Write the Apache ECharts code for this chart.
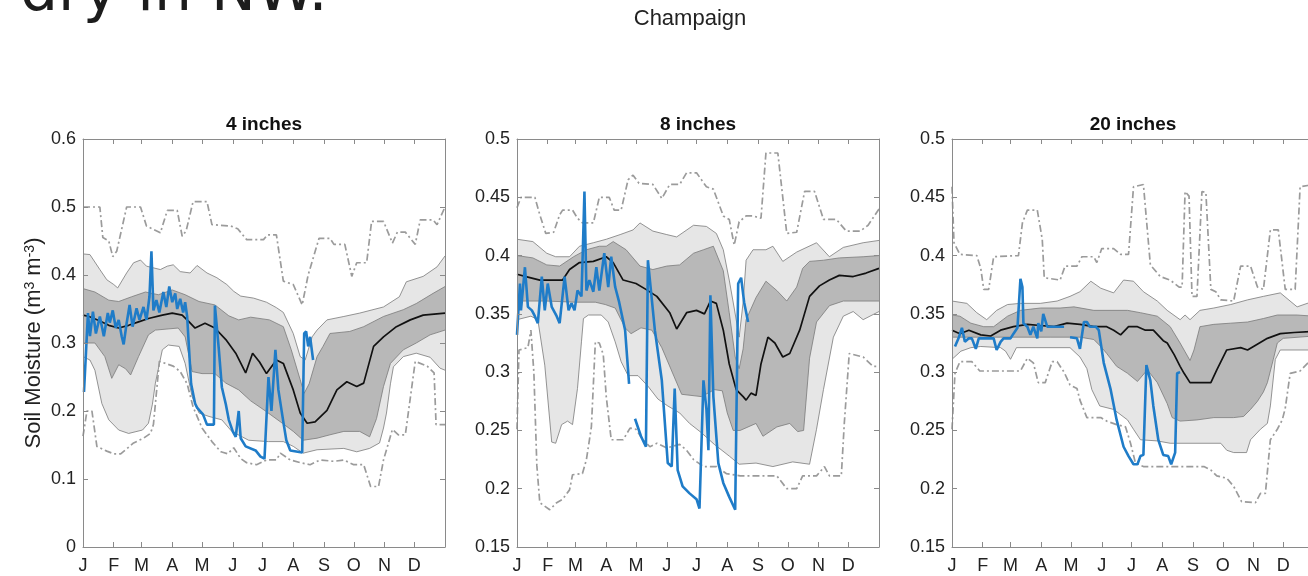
<!DOCTYPE html>
<html><head><meta charset="utf-8">
<script src="https://cdn.jsdelivr.net/npm/echarts@6/dist/echarts.min.js"></script>
<style>html,body{margin:0;padding:0;background:#fff;overflow:hidden;width:1308px;height:576px}#c{width:1320px;height:576px}</style>
</head><body><div id="c"></div>
<script>
// ---------- labels ----------
const headline = 'dry in NW.';
const siteName = 'Champaign';
const panelTitles = ['4 inches', '8 inches', '20 inches'];
const monthLabels = ['J','F','M','A','M','J','J','A','S','O','N','D'];
const monthStarts = [1,32,60,91,121,152,182,213,244,274,305,335];
const yMin = [0, 0.15, 0.15];
const yMax = [0.6, 0.5, 0.5];
const yStep = [0.1, 0.05, 0.05];

// ---------- 4 inches ----------
const p1Max = [[1,0.5],[18,0.5],[21,0.455],[27,0.45],[31,0.427],[35,0.435],[45,0.5],[59,0.5],[65,0.472],[79,0.462],[86,0.495],[96,0.495],[101,0.457],[105,0.465],[112,0.508],[126,0.508],[131,0.474],[150,0.472],[157,0.468],[166,0.452],[183,0.452],[187,0.459],[196,0.459],[203,0.391],[213,0.386],[222,0.356],[228,0.4],[239,0.454],[250,0.454],[254,0.445],[265,0.445],[272,0.398],[277,0.418],[287,0.418],[292,0.479],[304,0.479],[313,0.447],[318,0.463],[326,0.463],[336,0.445],[341,0.481],[354,0.481],[358,0.474],[366,0.5]];
const p1Min = [[1,0.163],[5,0.2],[10,0.2],[15,0.148],[25,0.141],[32,0.137],[39,0.137],[44,0.143],[52,0.153],[62,0.16],[69,0.167],[72,0.18],[78,0.273],[92,0.266],[99,0.258],[106,0.24],[112,0.206],[121,0.175],[131,0.155],[140,0.14],[147,0.137],[153,0.146],[160,0.13],[166,0.124],[176,0.121],[186,0.128],[196,0.128],[200,0.138],[210,0.128],[220,0.124],[230,0.121],[240,0.128],[254,0.126],[264,0.128],[274,0.121],[284,0.121],[291,0.089],[299,0.089],[304,0.128],[313,0.173],[319,0.165],[326,0.165],[336,0.273],[348,0.266],[355,0.256],[357,0.18],[366,0.18]];
const p1P90 = [[1,0.431],[8,0.43],[18,0.408],[25,0.393],[32,0.386],[36,0.381],[45,0.403],[52,0.418],[59,0.422],[65,0.413],[79,0.408],[86,0.413],[92,0.415],[99,0.405],[109,0.403],[116,0.414],[126,0.403],[136,0.396],[146,0.386],[153,0.376],[160,0.369],[173,0.366],[186,0.36],[196,0.352],[203,0.345],[213,0.314],[220,0.28],[225,0.275],[232,0.309],[237,0.319],[247,0.334],[264,0.339],[280,0.344],[304,0.353],[320,0.368],[327,0.39],[344,0.398],[358,0.412],[366,0.428]];
const p1P75 = [[1,0.38],[13,0.375],[27,0.363],[37,0.361],[50,0.368],[64,0.375],[77,0.371],[91,0.378],[104,0.371],[118,0.361],[134,0.356],[148,0.34],[158,0.334],[170,0.338],[189,0.334],[203,0.324],[211,0.29],[220,0.246],[224,0.226],[229,0.24],[237,0.28],[243,0.295],[250,0.314],[270,0.317],[284,0.324],[304,0.339],[324,0.349],[337,0.358],[354,0.373],[366,0.383]];
const p1Med = [[1,0.341],[7,0.339],[17,0.333],[27,0.326],[37,0.322],[47,0.326],[57,0.331],[67,0.336],[81,0.341],[91,0.344],[101,0.341],[108,0.331],[114,0.322],[124,0.329],[134,0.322],[145,0.305],[155,0.285],[165,0.256],[172,0.285],[179,0.272],[186,0.255],[196,0.275],[203,0.27],[213,0.231],[220,0.197],[227,0.182],[235,0.184],[247,0.201],[257,0.231],[267,0.243],[277,0.236],[284,0.241],[294,0.295],[304,0.309],[317,0.324],[331,0.334],[344,0.341],[366,0.344]];
const p1P25 = [[1,0.3],[13,0.3],[23,0.28],[30,0.248],[37,0.268],[44,0.262],[49,0.253],[57,0.28],[67,0.312],[74,0.319],[97,0.322],[104,0.309],[111,0.258],[121,0.255],[134,0.255],[145,0.241],[158,0.231],[170,0.215],[185,0.2],[202,0.182],[213,0.17],[223,0.157],[237,0.16],[250,0.165],[264,0.17],[280,0.17],[290,0.162],[297,0.189],[304,0.236],[311,0.27],[324,0.29],[337,0.3],[351,0.312],[366,0.319]];
const p1P10 = [[1,0.28],[8,0.275],[13,0.26],[20,0.211],[27,0.187],[37,0.172],[47,0.167],[61,0.172],[67,0.182],[71,0.21],[74,0.241],[81,0.29],[87,0.297],[98,0.295],[104,0.27],[111,0.221],[118,0.197],[128,0.192],[141,0.187],[151,0.17],[168,0.157],[188,0.155],[203,0.155],[213,0.148],[223,0.138],[237,0.143],[264,0.145],[277,0.14],[290,0.145],[300,0.153],[304,0.175],[307,0.197],[311,0.24],[314,0.265],[324,0.28],[337,0.285],[351,0.279],[361,0.263],[366,0.26]];
const p1Obs = [[2,0.228],[6,0.344],[8,0.31],[11,0.346],[14,0.314],[18,0.339],[22,0.31],[26,0.344],[28,0.33],[31,0.348],[34,0.322],[37,0.334],[40,0.31],[42,0.298],[45,0.329],[48,0.356],[51,0.324],[55,0.351],[58,0.334],[62,0.353],[65,0.334],[68,0.368],[70,0.435],[72,0.348],[75,0.363],[78,0.345],[82,0.375],[85,0.353],[88,0.383],[91,0.36],[94,0.373],[96,0.35],[99,0.365],[102,0.345],[104,0.36],[106,0.339],[110,0.24],[114,0.211],[116,0.205],[119,0.2],[122,0.195],[126,0.18],[133,0.18],[134,0.355],[138,0.29],[141,0.235],[145,0.21],[148,0.187],[152,0.17],[155,0.162],[158,0.2],[160,0.16],[165,0.148],[175,0.142],[180,0.133],[184,0.13],[188,0.25],[191,0.2],[195,0.29],[198,0.231],[203,0.184],[206,0.157],[210,0.142],[222,0.139],[224,0.314],[226,0.317],[228,0.295],[230,0.309],[233,0.275]];

// ---------- 8 inches ----------
const p2Max = [[1,0.441],[5,0.45],[19,0.45],[24,0.435],[30,0.419],[38,0.42],[44,0.435],[47,0.439],[57,0.439],[62,0.432],[67,0.428],[78,0.428],[84,0.45],[94,0.45],[99,0.439],[106,0.439],[113,0.465],[118,0.469],[124,0.462],[138,0.461],[147,0.449],[155,0.461],[165,0.461],[172,0.471],[182,0.471],[192,0.459],[199,0.457],[209,0.434],[215,0.431],[220,0.409],[225,0.429],[232,0.434],[239,0.434],[247,0.432],[252,0.488],[264,0.488],[273,0.419],[283,0.42],[291,0.455],[301,0.455],[310,0.431],[323,0.431],[333,0.421],[347,0.421],[355,0.426],[366,0.44]];
const p2Min = [[1,0.251],[3,0.319],[12,0.321],[15,0.336],[18,0.3],[21,0.22],[24,0.188],[34,0.182],[41,0.188],[47,0.191],[54,0.199],[57,0.212],[67,0.213],[71,0.225],[76,0.253],[80,0.326],[84,0.325],[88,0.315],[91,0.279],[96,0.242],[108,0.242],[115,0.252],[121,0.251],[128,0.242],[135,0.236],[142,0.239],[152,0.235],[165,0.238],[172,0.233],[179,0.225],[189,0.219],[202,0.219],[212,0.213],[226,0.211],[263,0.211],[273,0.2],[283,0.2],[289,0.211],[303,0.211],[311,0.219],[316,0.211],[328,0.211],[331,0.256],[336,0.316],[350,0.313],[360,0.305],[366,0.305]];
const p2P90 = [[1,0.414],[17,0.412],[31,0.402],[40,0.399],[54,0.399],[64,0.408],[78,0.411],[91,0.414],[105,0.418],[118,0.422],[125,0.428],[138,0.421],[152,0.418],[162,0.416],[179,0.426],[192,0.425],[202,0.419],[209,0.405],[215,0.379],[220,0.355],[225,0.33],[229,0.36],[232,0.396],[239,0.405],[252,0.405],[259,0.408],[269,0.395],[283,0.403],[303,0.411],[316,0.399],[330,0.407],[350,0.411],[366,0.413]];
const p2P75 = [[1,0.4],[17,0.398],[31,0.392],[44,0.391],[58,0.399],[71,0.405],[84,0.408],[91,0.408],[98,0.412],[111,0.405],[125,0.391],[138,0.388],[152,0.391],[165,0.392],[179,0.402],[189,0.405],[199,0.408],[209,0.387],[215,0.351],[221,0.313],[225,0.303],[229,0.32],[232,0.345],[242,0.364],[252,0.378],[263,0.37],[273,0.361],[283,0.373],[289,0.389],[296,0.395],[310,0.396],[326,0.398],[350,0.399],[366,0.4]];
const p2Med = [[1,0.384],[10,0.382],[24,0.379],[37,0.379],[47,0.379],[54,0.388],[64,0.394],[78,0.395],[91,0.399],[98,0.394],[108,0.379],[121,0.376],[131,0.371],[142,0.365],[155,0.351],[162,0.337],[172,0.351],[182,0.353],[190,0.35],[196,0.361],[202,0.359],[209,0.336],[215,0.307],[222,0.285],[229,0.279],[232,0.276],[237,0.282],[242,0.28],[247,0.307],[254,0.33],[261,0.325],[269,0.313],[276,0.316],[286,0.336],[296,0.365],[306,0.374],[316,0.379],[326,0.383],[340,0.382],[353,0.385],[366,0.389]];
const p2P25 = [[1,0.361],[30,0.361],[60,0.36],[80,0.36],[90,0.358],[100,0.355],[110,0.338],[116,0.333],[126,0.338],[137,0.336],[147,0.321],[157,0.301],[167,0.281],[187,0.279],[200,0.285],[208,0.284],[213,0.265],[219,0.25],[226,0.25],[242,0.256],[249,0.245],[263,0.253],[276,0.256],[284,0.249],[290,0.25],[296,0.312],[303,0.343],[316,0.357],[330,0.361],[366,0.361]];
const p2P10 = [[1,0.345],[15,0.348],[22,0.345],[29,0.306],[36,0.24],[40,0.239],[46,0.255],[52,0.258],[57,0.255],[62,0.286],[66,0.326],[68,0.346],[73,0.349],[86,0.349],[93,0.343],[100,0.326],[106,0.309],[113,0.297],[123,0.297],[133,0.288],[143,0.277],[153,0.271],[165,0.265],[175,0.256],[187,0.248],[200,0.238],[215,0.228],[225,0.221],[242,0.222],[259,0.219],[279,0.223],[296,0.221],[303,0.251],[310,0.285],[320,0.33],[330,0.348],[340,0.352],[350,0.345],[366,0.352]];
const p2Obs = [[1,0.332],[4,0.376],[5,0.353],[9,0.39],[12,0.356],[16,0.353],[19,0.348],[22,0.342],[26,0.382],[29,0.353],[32,0.376],[36,0.356],[41,0.348],[44,0.342],[49,0.382],[53,0.353],[56,0.359],[59,0.353],[62,0.37],[66,0.365],[67,0.393],[69,0.455],[71,0.37],[74,0.379],[78,0.369],[81,0.39],[84,0.37],[89,0.402],[93,0.373],[96,0.399],[100,0.373],[104,0.36],[110,0.336],[114,0.29],[117,null],[120,0.26],[126,0.245],[131,0.236],[133,0.396],[140,0.336],[147,0.293],[153,0.222],[157,0.219],[160,0.286],[163,0.216],[168,0.202],[175,0.196],[182,0.191],[185,0.183],[189,0.293],[192,0.268],[194,0.233],[196,0.366],[199,0.279],[204,0.222],[209,0.205],[215,0.193],[221,0.182],[224,0.376],[227,0.381],[230,0.36],[234,0.343]];

// ---------- 20 inches ----------
const p3Max = [[1,0.459],[3,0.411],[9,0.401],[26,0.4],[30,0.389],[33,0.371],[38,0.371],[43,0.399],[68,0.4],[72,0.428],[77,0.439],[87,0.439],[92,0.414],[94,0.381],[110,0.379],[115,0.391],[127,0.391],[132,0.399],[144,0.399],[147,0.394],[152,0.406],[164,0.406],[171,0.401],[179,0.401],[184,0.459],[194,0.461],[201,0.392],[211,0.382],[221,0.379],[230,0.373],[233,0.373],[236,0.455],[240,0.451],[243,0.365],[248,0.365],[253,0.455],[257,0.454],[262,0.371],[267,0.369],[272,0.362],[285,0.361],[292,0.391],[302,0.391],[309,0.373],[315,0.371],[322,0.422],[330,0.422],[337,0.371],[347,0.371],[352,0.459],[366,0.461]];
const p3Min = [[1,0.251],[4,0.299],[9,0.309],[21,0.309],[29,0.301],[70,0.301],[77,0.312],[83,0.308],[88,0.291],[95,0.291],[102,0.309],[107,0.309],[114,0.3],[120,0.289],[127,0.286],[130,0.276],[137,0.261],[151,0.261],[157,0.258],[167,0.255],[176,0.253],[181,0.239],[186,0.222],[194,0.219],[255,0.219],[262,0.216],[268,0.211],[278,0.209],[285,0.202],[293,0.189],[307,0.188],[312,0.196],[317,0.196],[322,0.242],[329,0.251],[334,0.259],[337,0.269],[342,0.299],[352,0.301],[360,0.308],[366,0.31]];
const p3P90 = [[1,0.361],[16,0.359],[26,0.351],[36,0.345],[46,0.353],[57,0.358],[70,0.359],[90,0.359],[107,0.361],[120,0.365],[130,0.369],[141,0.378],[151,0.372],[164,0.368],[174,0.379],[184,0.378],[194,0.369],[208,0.361],[218,0.353],[231,0.345],[236,0.349],[241,0.345],[251,0.353],[265,0.355],[282,0.358],[299,0.362],[315,0.365],[332,0.368],[349,0.356],[366,0.361]];
const p3P75 = [[1,0.349],[9,0.348],[20,0.342],[33,0.339],[43,0.339],[57,0.348],[70,0.353],[90,0.355],[110,0.355],[124,0.356],[144,0.353],[178,0.353],[191,0.351],[208,0.348],[221,0.339],[231,0.325],[241,0.31],[245,0.319],[251,0.339],[265,0.341],[282,0.342],[299,0.343],[315,0.346],[329,0.349],[349,0.349],[366,0.348]];
const p3Med = [[1,0.336],[9,0.333],[18,0.336],[30,0.332],[40,0.331],[50,0.336],[63,0.339],[77,0.341],[90,0.34],[104,0.339],[117,0.342],[130,0.341],[144,0.339],[157,0.339],[164,0.336],[171,0.332],[179,0.339],[188,0.339],[196,0.336],[204,0.336],[214,0.327],[218,0.325],[225,0.315],[231,0.305],[235,0.299],[241,0.291],[262,0.291],[268,0.302],[278,0.319],[292,0.321],[299,0.319],[305,0.322],[319,0.329],[332,0.333],[346,0.334],[366,0.335]];
const p3P25 = [[1,0.33],[50,0.33],[100,0.33],[130,0.33],[144,0.328],[151,0.322],[157,0.316],[167,0.305],[178,0.299],[188,0.292],[198,0.302],[208,0.291],[218,0.273],[223,0.261],[231,0.258],[248,0.259],[265,0.261],[285,0.261],[295,0.262],[302,0.268],[309,0.275],[315,0.283],[319,0.291],[325,0.311],[329,0.325],[335,0.329],[366,0.331]];
const p3P10 = [[1,0.311],[10,0.318],[20,0.321],[30,0.322],[50,0.321],[55,0.318],[60,0.311],[66,0.321],[120,0.321],[130,0.313],[137,0.303],[142,0.285],[150,0.271],[164,0.268],[178,0.259],[184,0.251],[191,0.242],[208,0.241],[221,0.239],[272,0.239],[278,0.233],[285,0.231],[298,0.231],[302,0.242],[312,0.251],[319,0.256],[322,0.271],[327,0.311],[332,0.319],[366,0.319]];
const p3Obs = [[4,0.322],[8,0.33],[11,0.338],[14,0.326],[18,0.329],[21,0.329],[25,0.32],[28,0.329],[43,0.329],[46,0.319],[50,0.326],[53,0.329],[60,0.329],[63,0.333],[67,0.338],[70,0.38],[72,0.373],[73,0.342],[77,0.339],[80,0.332],[83,0.339],[87,0.329],[88,0.342],[91,0.335],[93,0.35],[97,0.339],[114,0.339],[117,null],[120,0.33],[127,0.329],[130,0.32],[134,0.343],[137,0.343],[140,0.339],[146,0.339],[149,0.336],[154,0.308],[161,0.285],[167,0.259],[174,0.236],[179,0.228],[184,0.221],[188,0.221],[191,0.228],[194,0.229],[197,0.306],[201,0.293],[204,0.271],[209,0.242],[214,0.229],[219,0.228],[222,0.221],[226,0.231],[228,0.299],[231,0.3]];

const panels = [
  {max:p1Max, min:p1Min, p90:p1P90, p75:p1P75, med:p1Med, p25:p1P25, p10:p1P10, obs:p1Obs},
  {max:p2Max, min:p2Min, p90:p2P90, p75:p2P75, med:p2Med, p25:p2P25, p10:p2P10, obs:p2Obs},
  {max:p3Max, min:p3Min, p90:p3P90, p75:p3P75, med:p3Med, p25:p3P25, p10:p3P10, obs:p3Obs}
];

// ---------- layout & style ----------
const gridLeft = [83, 517, 952];
const gridTop = 139, gridW = 362, gridH = 408;
const axisColor = '#8a8a8a';
const textColor = '#222';
const FONT = '"Liberation Sans", Arial, sans-serif';
const lightFill = '#e6e6e6', darkFill = '#b8b8b8', edgeColor = '#7a7a7a';
const blue = '#1f7cc8';

const grids = [], xAxes = [], yAxes = [], series = [];
panels.forEach((p, i) => {
  grids.push({left: gridLeft[i], top: gridTop, width: gridW, height: gridH, containLabel: false});
  const xBase = {gridIndex: i, type: 'value', min: 1, max: 366, z: 10,
    axisLine: {show: true, onZero: false, lineStyle: {color: axisColor, width: 1}},
    axisTick: {show: true, inside: true, length: 5, customValues: monthStarts, lineStyle: {color: axisColor}},
    splitLine: {show: false}};
  xAxes.push(Object.assign({}, xBase, {position: 'bottom',
    axisLabel: {show: true, customValues: monthStarts, formatter: v => monthLabels[monthStarts.indexOf(v)],
      color: textColor, fontSize: 18, fontFamily: FONT, margin: 10}}));
  xAxes.push(Object.assign({}, xBase, {position: 'top', axisLabel: {show: false}}));
  const yBase = {gridIndex: i, type: 'value', min: yMin[i], max: yMax[i], interval: yStep[i], z: 10,
    axisLine: {show: true, onZero: false, lineStyle: {color: axisColor, width: 1}},
    axisTick: {show: true, inside: true, length: 5, lineStyle: {color: axisColor}},
    splitLine: {show: false}};
  const yLeft = Object.assign({}, yBase, {position: 'left',
    axisLabel: {show: true, color: textColor, fontSize: 18, fontFamily: FONT, margin: 7}});
  if (i === 0) {
    yLeft.name = '{t|Soil Moisture (m}{s|3}{t| m}{s|-3}{t|)}';
    yLeft.nameLocation = 'middle';
    yLeft.nameRotate = 90;
    yLeft.nameGap = 38;
    yLeft.nameTextStyle = {rich: {
      t: {fontSize: 22, fontFamily: FONT, color: textColor},
      s: {fontSize: 14, fontFamily: FONT, color: textColor, verticalAlign: 'top'}}};
  }
  yAxes.push(yLeft);
  yAxes.push(Object.assign({}, yBase, {position: 'right', axisLabel: {show: false}}));

  const ax = {xAxisIndex: 2 * i, yAxisIndex: 2 * i, type: 'line', symbol: 'none', silent: true, animation: false};
  const band = (data, fill) => Object.assign({}, ax, {data,
    lineStyle: {color: edgeColor, width: 0.8},
    areaStyle: {origin: 'start', color: fill, opacity: 1}});
  series.push(band(p.p90, lightFill));
  series.push(band(p.p75, darkFill));
  series.push(band(p.p25, lightFill));
  series.push(band(p.p10, '#ffffff'));
  const dashDot = {color: '#9b9b9b', width: 1.7, type: [7, 3, 2, 3]};
  series.push(Object.assign({}, ax, {data: p.min, lineStyle: dashDot}));
  series.push(Object.assign({}, ax, {data: p.max, lineStyle: dashDot}));
  series.push(Object.assign({}, ax, {data: p.med, lineStyle: {color: '#111', width: 1.7}}));
  series.push(Object.assign({}, ax, {data: p.obs, connectNulls: false, lineStyle: {color: blue, width: 2.6}}));
});

const graphics = [
  {type: 'text', x: 20, y: -6, silent: true,
   style: {text: headline, font: '60px "DejaVu Sans", sans-serif', fill: '#1c1c1c', align: 'left', verticalAlign: 'middle'}},
  {type: 'text', x: 690, y: 19, silent: true,
   style: {text: siteName, font: '22px ' + FONT, fill: textColor, align: 'center', verticalAlign: 'middle'}}
];
panelTitles.forEach((t, i) => graphics.push({type: 'text', x: gridLeft[i] + gridW / 2, y: 125, silent: true,
  style: {text: t, font: 'bold 19px ' + FONT, fill: '#111', align: 'center', verticalAlign: 'middle'}}));

const chart = echarts.init(document.getElementById('c'), null, {renderer: 'canvas'});
chart.setOption({
  animation: false,
  backgroundColor: '#ffffff',
  grid: grids, xAxis: xAxes, yAxis: yAxes, series: series, graphic: graphics
});
</script></body></html>
